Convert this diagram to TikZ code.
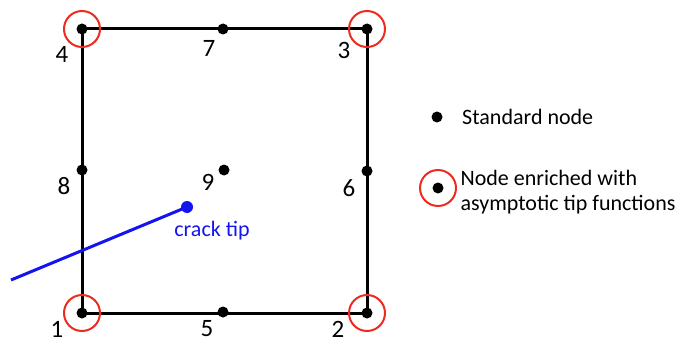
\documentclass[tikz,border=0pt]{standalone}
\usepackage{fontspec}
\setmainfont{Carlito}
\usepackage{xcolor}
\usepackage{tikz}
\definecolor{femRed}{HTML}{EE2B1F}
\definecolor{femBlue}{HTML}{1414F0}
\usetikzlibrary{positioning}

\begin{document}
\begin{tikzpicture}[x=1pt,y=-1pt,
  every node/.style={font=\fontsize{22}{25}\selectfont},
  dot/.style={circle,fill=black,inner sep=0pt,minimum size=11pt},
  ring/.style={circle,draw=femRed,line width=2pt,inner sep=0pt,minimum size=36pt},
  digit/.style={font=\fontsize{25}{28}\selectfont,inner sep=0pt}]
  \useasboundingbox (0,0) rectangle (687,342);
  % element nodes
  \foreach \name/\x/\y in {n1/82/313,n2/367/313,n3/367/29,n4/82/29,n5/223/312,n6/367/171,n7/223/29,n8/82/170,n9/224/170}
    \node[dot] (\name) at (\x,\y) {};
  \draw[line width=3pt] (n1.center) -- (n2.center) -- (n3.center) -- (n4.center) -- cycle;
  \foreach \c in {n1,n2,n3,n4}
    \node[ring] (r\c) at (\c) {};
  % node numbers
  \foreach \name/\x/\y/\t in {l1/57/329/1,l2/338/329/2,l3/344/50/3,l4/62/54/4,l5/207/329/5,l6/349/188/6,l7/209/48/7,l8/64/186/8,l9/208/182/9}
    \node[digit] (\name) at (\x,\y) {\t};
  % crack
  \coordinate (crackend) at (11,280);
  \node[circle,fill=femBlue,inner sep=0pt,minimum size=12pt] (tip) at (187,207) {};
  \draw[femBlue,line width=3pt] (crackend) -- (tip.center);
  \node[text=femBlue,inner sep=0pt] (tiplabel) at (212,231) {crack tip};
  % legend
  \node[dot] (legstd) at (437,117) {};
  \node[right=16pt of legstd] (legstdtext) {Standard node};
  \node[dot] (legenr) at (438,188) {};
  \node[ring] (legring) at (legenr) {};
  \node[right=0pt of legring,align=left,yshift=-4pt] (legenrtext) {Node enriched with\\asymptotic tip functions};
\end{tikzpicture}
\end{document}
